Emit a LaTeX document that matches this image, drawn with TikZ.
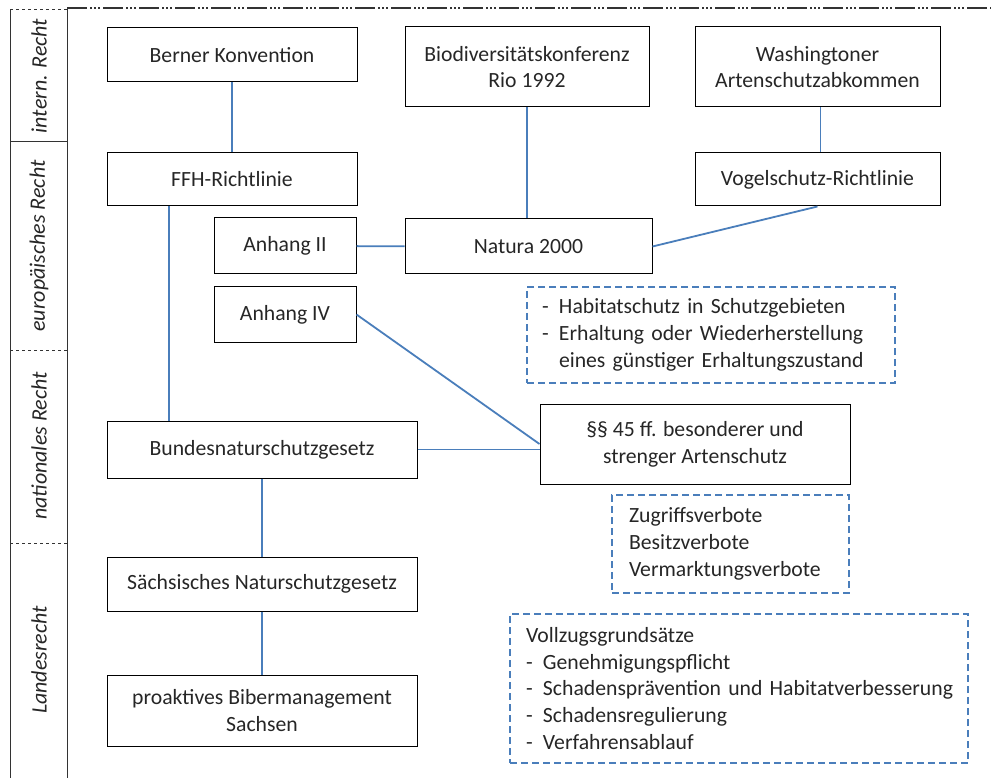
\documentclass[tikz,border=0pt]{standalone}
\usepackage{fontspec}
\setmainfont{Carlito}
\usetikzlibrary{calc}
\definecolor{linkblue}{HTML}{4A7EBB}
\definecolor{inkgray}{HTML}{262626}
\newcommand{\itm}{\makebox[17pt][l]{-}}

\begin{document}
\begin{tikzpicture}[x=1pt, y=-1pt,
        box/.style={draw, line width=1pt, inner sep=0pt, align=center, text=inkgray,
            font=\fontsize{21.7}{26.8}\selectfont},
        note/.style={draw=linkblue, dash pattern=on 7pt off 4pt, line width=1.1pt, inner ysep=0pt,
            align=left, text=inkgray, font=\fontsize{21.7}{26.8}\selectfont},
        level/.style={rotate=90, text=inkgray, font=\fontsize{22}{26}\selectfont\itshape},
        frame/.style={line width=1pt, draw=black!80},
        link/.style={draw=linkblue, line width=1.8pt}]
        \useasboundingbox (0,0) rectangle (991,778);

        % left column with the levels of law
        \draw[frame, line width=1.4pt, dash pattern=on 20pt off 3pt on 2pt off 2pt on 2pt off 2pt on 2pt off 3pt]
            (67,8) -- (991,8);
        \draw[frame, dashed] (10,10) -- (67,10);
        \draw[frame] (67,8) -- (67,778);
        \draw[frame] (10,10) -- (10,778);
        \draw[frame] (10,142) -- (67,142);
        \draw[frame, dashed] (10,350) -- (67,350);
        \draw[frame, dashed] (10,543) -- (67,543);

        \node[level] (intern) at (39,76) {intern. Recht};
        \node[level] (europa) at (39,246) {europäisches Recht};
        \node[level] (national) at (39,446) {nationales Recht};
        \node[level] (land) at (39,660) {Landesrecht};

        % boxes
        \node[box, minimum width=250, minimum height=54] (berner) at (232,55) {Berner Konvention};
        \node[box, minimum width=244, minimum height=80] (rio) at (527,67) {Biodiversitätskonferenz\\Rio 1992};
        \node[box, minimum width=245, minimum height=80] (washington) at (817.5,67) {Washingtoner\\Artenschutzabkommen};
        \node[box, minimum width=250, minimum height=53] (ffh) at (232,179.5) {FFH-Richtlinie};
        \node[box, minimum width=245, minimum height=53] (vogel) at (817.5,179.5) {Vogelschutz-Richtlinie};
        \node[box, minimum width=142, minimum height=56] (anh2) at (285,246) {Anhang II};
        \node[box, minimum width=247, minimum height=55] (natura) at (528.5,246.5) {Natura 2000};
        \node[box, minimum width=142, minimum height=56] (anh4) at (285,314.5) {Anhang IV};
        \node[box, minimum width=310, minimum height=80] (para) at (695,444) {§§ 45 ff. besonderer und\\strenger Artenschutz};
        \node[box, minimum width=310, minimum height=57] (bnat) at (262,449.5) {Bundesnaturschutzgesetz};
        \node[box, minimum width=310, minimum height=54] (sachs) at (262,584) {Sächsisches Naturschutzgesetz};
        \node[box, minimum width=310, minimum height=71] (biber) at (262,710.5) {proaktives Bibermanagement\\Sachsen};

        % dashed notes
        \node[note, inner xsep=15, text width=338, minimum height=96] (habitat) at (711,335)
            {\itm Habitatschutz in Schutzgebieten\\\itm Erhaltung oder Wiederherstellung\\\hspace*{17pt}eines günstiger Erhaltungszustand};
        \node[note, inner xsep=17, text width=203, minimum height=98] (verbote) at (730.5,544)
            {Zugriffsverbote\\Besitzverbote\\Vermarktungsverbote};
        \node[note, inner xsep=16, text width=426, minimum height=149] (vollzug) at (739,688.5)
            {Vollzugsgrundsätze\\\itm Genehmigungspflicht\\\itm\mbox{Schadensprävention und Habitatverbesserung}\\\itm Schadensregulierung\\\itm Verfahrensablauf};

        % connectors
        \draw[link] (berner) -- (ffh);
        \draw[link] (rio) -- (rio |- natura.north);
        \draw[link] ($(washington.south)+(3,0)$) coordinate (washfoot) -- (washfoot |- vogel.north);
        \draw[link] (vogel.south) -- (natura.east);
        \draw[link] (anh2) -- (natura);
        \draw[link] ($(ffh.south west)!0.25!(ffh.south east)$) coordinate (ffhfoot) -- (ffhfoot |- bnat.north);
        \draw[link] (anh4.east) -- (para.west);
        \draw[link] (bnat.east) -- (bnat.east -| para.west);
        \draw[link] (bnat) -- (sachs);
        \draw[link] (sachs) -- (biber);
\end{tikzpicture}
\end{document}
